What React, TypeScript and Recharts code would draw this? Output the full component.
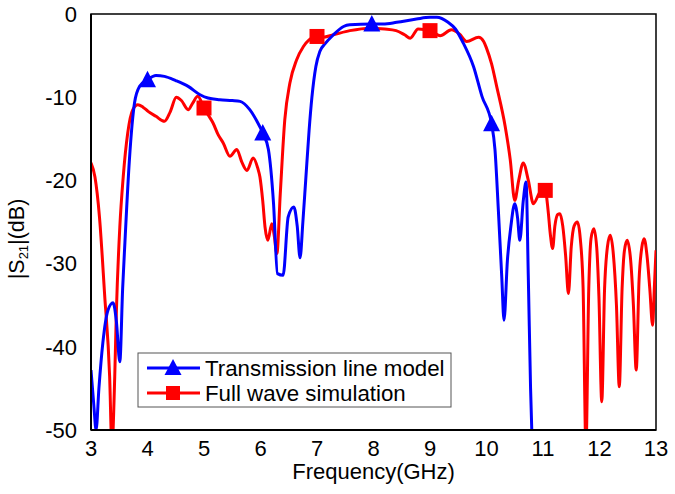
import { LineChart, Line, XAxis, YAxis, ReferenceArea } from "recharts";

// Transmission line model (blue)
const tlmFreq = [
  3.0, 3.05, 3.09, 3.14, 3.21, 3.3, 3.39, 3.45, 3.51, 3.56, 3.6, 3.68, 3.77, 3.86,
  4.0, 4.15, 4.3, 4.5, 4.72, 4.93, 5.07, 5.28, 5.5, 5.64, 5.81, 5.93, 6.04, 6.14,
  6.23, 6.3, 6.4, 6.49, 6.59, 6.65, 6.7, 6.75, 6.8, 6.86, 6.91, 6.98, 7.05, 7.14,
  7.29, 7.47, 7.58, 7.97, 8.17, 8.41, 8.76, 9.0, 9.12, 9.32, 9.45, 9.59, 9.77,
  9.92, 10.09, 10.15, 10.21, 10.27, 10.31, 10.37, 10.43, 10.5, 10.55, 10.59,
  10.65, 10.7, 10.74, 10.78, 10.81,
];
const tlmS21 = [
  -42.8, -47, -50, -45, -39.5, -35.6, -34.7, -37, -41.8, -33, -27.5, -17.5, -10.7, -8.7,
  -7.9, -7.4, -7.5, -8.0, -8.7, -9.7, -10.1, -10.3, -10.4, -10.5, -11.5, -12.8, -14.3, -16.3,
  -22.7, -31.2, -31.4, -24.4, -23.2, -25.5, -29.3, -25, -20, -14, -10, -6.3, -4.5, -3.6,
  -2.5, -1.5, -1.3, -1.2, -1.2, -1.0, -0.6, -0.4, -0.4, -1.0, -1.8, -3.5, -6.3,
  -9.9, -13.2, -16.3, -23.6, -31.6, -36.8, -29.6, -25.6, -22.8, -24.5, -27.2,
  -22.5, -20.2, -31.6, -45, -52,
];
const tlmMarkers = [4.0, 6.04, 7.97, 10.09];

// Full wave simulation (red)
const fwFreq = [
  3.0, 3.07, 3.15, 3.24, 3.33, 3.37, 3.42, 3.45, 3.51, 3.57, 3.65, 3.74, 3.83, 3.92,
  4.01, 4.15, 4.3, 4.4, 4.51, 4.6, 4.72, 4.8, 4.89, 5.0, 5.08, 5.16, 5.25, 5.34,
  5.46, 5.58, 5.67, 5.76, 5.87, 5.95, 5.99, 6.04, 6.08, 6.13, 6.2, 6.24, 6.29, 6.35,
  6.43, 6.52, 6.64, 6.76, 6.86, 7.0, 7.1, 7.29, 7.58, 7.94, 8.2, 8.4, 8.55, 8.65,
  8.79, 9.0, 9.18, 9.38, 9.52, 9.65, 9.86, 9.95, 10.0, 10.09, 10.18, 10.33, 10.42,
  10.5, 10.57, 10.65, 10.74, 10.83, 10.95, 11.04, 11.09, 11.13, 11.17, 11.21, 11.26,
  11.3, 11.35, 11.4, 11.45, 11.5, 11.55, 11.61, 11.66, 11.71, 11.76, 11.81, 11.85,
  11.9, 11.95, 11.99, 12.04, 12.09, 12.14, 12.19, 12.24, 12.3, 12.35, 12.4, 12.44,
  12.49, 12.55, 12.6, 12.65, 12.7, 12.75, 12.79, 12.84, 12.89, 12.94, 12.97, 13.0,
];
const fwS21 = [
  -17.9, -19.6, -24.4, -33.6, -43.6, -52, -43.6, -35.6, -25.6, -19.6, -14.3, -11.5, -10.9, -11.2,
  -11.7, -12.3, -12.9, -11.8, -10.0, -10.4, -11.5, -10.7, -9.9, -11.3, -12.2, -13.1, -14.5, -15.5,
  -17.1, -16.3, -17.8, -18.8, -17.3, -18.5, -19.6, -22.5, -25.6, -27.2, -25.2, -26.5, -28.8, -21.6,
  -12.7, -8.3, -5.5, -3.9, -3.1, -2.7, -2.8, -2.5, -2.0, -1.7, -1.8, -2.0, -2.5, -2.9,
  -1.8, -2.0, -2.6, -1.9, -2.4, -3.3, -2.8, -3.3, -4.1, -6.0, -8.7, -13.5, -17.5,
  -22.4, -20, -17.9, -20, -22.8, -21.4, -21.2, -23.6, -26.5, -28.2, -25.5, -24.1,
  -24.0, -25.5, -29, -33.6, -28, -25.5, -25.0, -27, -33, -52, -33, -27,
  -25.8, -28, -34, -46.6, -33, -28, -26.6, -28.5, -35, -44.8, -33, -28.5,
  -27.2, -29.5, -35, -42.8, -32, -28, -27.0, -29, -33, -37.4, -33, -28.4,
];
const fwMarkers = [5.0, 7.0, 9.0, 11.04];

const xTicks = [3, 4, 5, 6, 7, 8, 9, 10, 11, 12, 13];
const yTicks = [-50, -40, -30, -20, -10, 0];

const tlmData = tlmFreq.map((f, i) => ({ f, s21: tlmS21[i] }));
const fwData = fwFreq.map((f, i) => ({ f, s21: fwS21[i] }));

const BLUE = "#0000ff";
const RED = "#ff0000";
const FONT = "'Liberation Sans', Arial, sans-serif";

const triangleDot = (props: any) => {
  const { cx, cy, payload, index } = props;
  if (!tlmMarkers.includes(payload.f)) return <g key={index} />;
  return (
    <polygon
      key={index}
      points={`${cx},${cy - 9} ${cx - 8.5},${cy + 7.5} ${cx + 8.5},${cy + 7.5}`}
      fill={BLUE}
    />
  );
};

const squareDot = (props: any) => {
  const { cx, cy, payload, index } = props;
  if (!fwMarkers.includes(payload.f)) return <g key={index} />;
  return <rect key={index} x={cx - 7.5} y={cy - 7.5} width={15} height={15} fill={RED} />;
};

const YLabel = () => (
  <text
    x={17}
    y={239}
    transform="rotate(-90, 17, 239)"
    textAnchor="middle"
    dominantBaseline="central"
    fontFamily={FONT}
    fontSize={21.5}
    fill="#000"
  >
    |S
    <tspan fontSize={13} dy={6}>21</tspan>
    <tspan dy={-6}>|(dB)</tspan>
  </text>
);

function LegendBox() {
  return (
    <svg
      width={316}
      height={57}
      style={{ position: "absolute", left: 137, top: 352 }}
    >
      <rect x={1} y={1} width={313} height={54} fill="#fff" stroke="#555" strokeWidth={1} />
      <line x1={10} y1={16} x2={63} y2={16} stroke={BLUE} strokeWidth={3} />
      <polygon points="36,7 27.5,23 44.5,23" fill={BLUE} />
      <text x={68} y={16} dominantBaseline="central" fontFamily={FONT} fontSize={22.3} fill="#000">
        Transmission line model
      </text>
      <line x1={10} y1={41} x2={63} y2={41} stroke={RED} strokeWidth={3} />
      <rect x={29} y={34} width={14} height={14} fill={RED} />
      <text x={68} y={41} dominantBaseline="central" fontFamily={FONT} fontSize={22.3} fill="#000">
        Full wave simulation
      </text>
    </svg>
  );
}

export default function App() {
  return (
    <div
      style={{
        position: "absolute",
        left: 0,
        top: 0,
        width: 675,
        height: 494,
        background: "#fff",
        fontFamily: FONT,
      }}
    >
      <LineChart width={675} height={494} margin={{ top: 14, right: 19, left: 0, bottom: 0 }}>
        <XAxis
          dataKey="f"
          type="number"
          domain={[3, 13]}
          ticks={xTicks}
          allowDataOverflow
          height={64}
          axisLine={{ stroke: "#000", strokeWidth: 2 }}
          tickLine={false}
          tickSize={6}
          tickMargin={4}
          tick={{ fontSize: 22, fill: "#000", fontFamily: FONT }}
          label={{
            value: "Frequency(GHz)",
            position: "insideBottom",
            offset: 15,
            style: { fontSize: 22, fill: "#000", fontFamily: FONT },
          }}
        />
        <YAxis
          dataKey="s21"
          type="number"
          domain={[-50, 0]}
          ticks={yTicks}
          allowDataOverflow
          width={91}
          axisLine={{ stroke: "#000", strokeWidth: 2 }}
          tickLine={false}
          tickSize={6}
          tickMargin={8}
          tick={{ fontSize: 22, fill: "#000", fontFamily: FONT }}
          label={{ content: () => <YLabel /> }}
        />
        <ReferenceArea
          x1={3}
          x2={13}
          y1={-50}
          y2={0}
          fill="none"
          fillOpacity={0}
          stroke="#000"
          strokeWidth={1.5}
        />
        <Line
          data={fwData}
          dataKey="s21"
          type="monotone"
          stroke={RED}
          strokeWidth={3}
          dot={squareDot}
          activeDot={false}
          isAnimationActive={false}
        />
        <Line
          data={tlmData}
          dataKey="s21"
          type="monotone"
          stroke={BLUE}
          strokeWidth={3}
          dot={triangleDot}
          activeDot={false}
          isAnimationActive={false}
        />
      </LineChart>
      <LegendBox />
    </div>
  );
}
